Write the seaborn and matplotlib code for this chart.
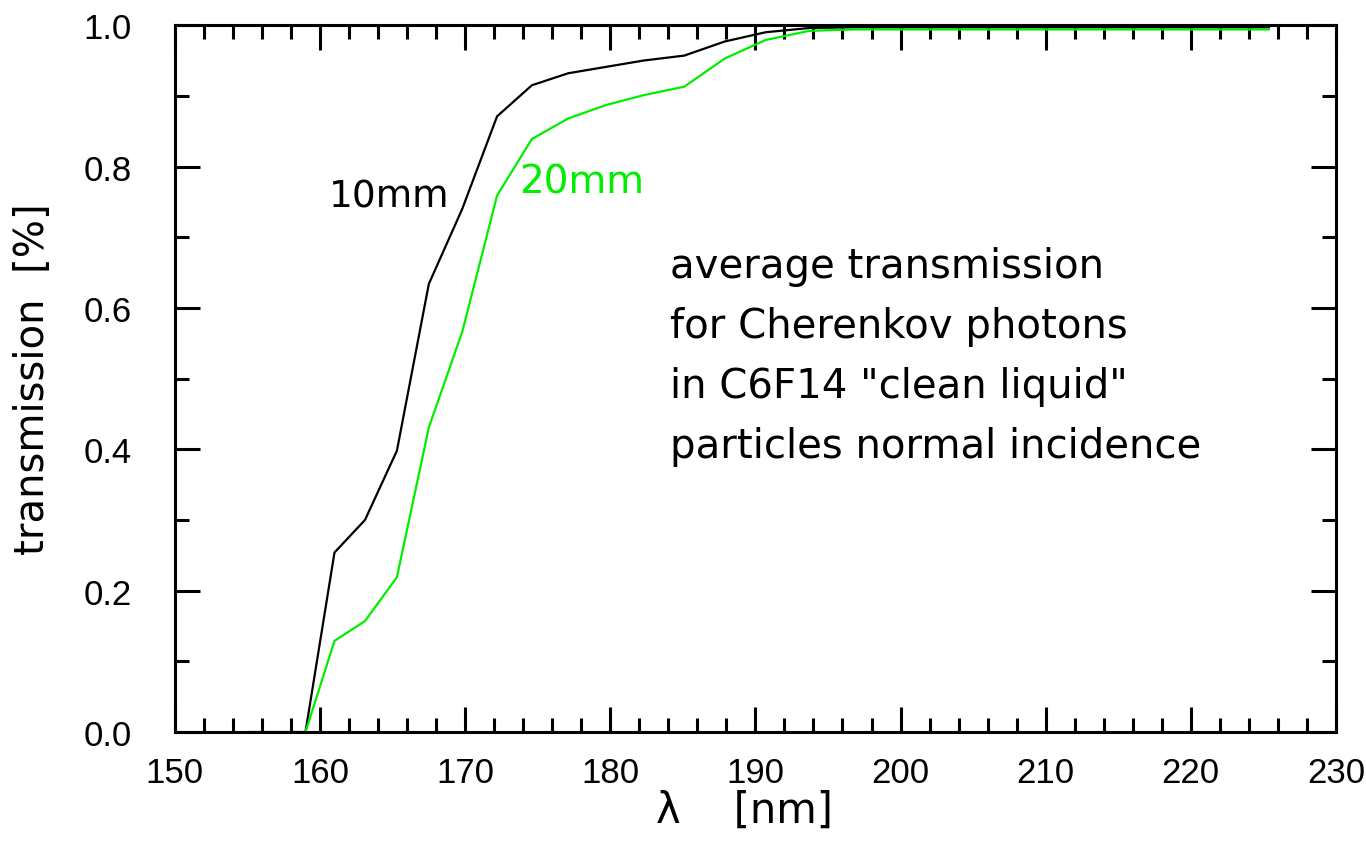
import matplotlib
matplotlib.use("Agg")
import matplotlib.pyplot as plt
from matplotlib.ticker import MultipleLocator
import pandas as pd
import seaborn as sns

# wavelength grid [nm]
wavelength = [155.0, 156.9, 159.0, 161.0, 163.1, 165.3, 167.5, 169.8, 172.2,
              174.6, 177.1, 179.7, 182.3, 185.1, 187.9, 190.7, 193.7, 196.8,
              200.0, 203.3, 206.6, 210.1, 213.8, 217.5, 221.4, 225.4]

trans_10mm = [0.0, 0.0, 0.0, 0.254, 0.300, 0.398, 0.634, 0.740, 0.871,
              0.915, 0.932, 0.941, 0.950, 0.957, 0.977, 0.990, 0.996, 0.997,
              0.997, 0.997, 0.997, 0.997, 0.997, 0.997, 0.997, 0.997]

trans_20mm = [0.0, 0.0, 0.0, 0.129, 0.157, 0.219, 0.431, 0.566, 0.759,
              0.839, 0.868, 0.887, 0.901, 0.913, 0.953, 0.979, 0.992, 0.994,
              0.994, 0.994, 0.994, 0.994, 0.994, 0.994, 0.994, 0.994]

info_lines = ["average transmission",
              "for Cherenkov photons",
              "in C6F14 \"clean liquid\"",
              "particles normal incidence"]

df = pd.DataFrame({
    "wavelength": wavelength * 2,
    "transmission": trans_10mm + trans_20mm,
    "thickness": ["10mm"] * len(wavelength) + ["20mm"] * len(wavelength),
})

sns.set_style("ticks")
plt.rcParams["font.family"] = ["DejaVu Sans"]

fig = plt.figure(figsize=(13.66, 8.45), dpi=100)
ax = fig.add_axes([0.128, 0.1325, 0.850, 0.8365])

sns.lineplot(data=df, x="wavelength", y="transmission", hue="thickness",
             palette={"10mm": "black", "20mm": "#00ee00"}, linewidth=1.6,
             legend=False, ax=ax)

ax.set_xlim(150, 230)
ax.set_ylim(0, 1)
ax.xaxis.set_major_locator(MultipleLocator(10))
ax.xaxis.set_minor_locator(MultipleLocator(2))
ax.yaxis.set_major_locator(MultipleLocator(0.2))
ax.yaxis.set_minor_locator(MultipleLocator(0.1))
ax.yaxis.set_major_formatter(plt.FormatStrFormatter("%.1f"))
ax.tick_params(which="both", direction="in", top=True, right=True,
               width=2.2, color="black", labelcolor="black",
               labelsize=25, labelfontfamily="Liberation Sans")
ax.tick_params(axis="x", pad=17)
ax.tick_params(axis="y", pad=31)
ax.tick_params(which="major", length=18)
ax.tick_params(which="minor", length=10)
for s in ax.spines.values():
    s.set_linewidth(2.2)
    s.set_color("black")

ax.set_xlabel("λ    [nm]", fontsize=30, labelpad=0, color="black")
ax.xaxis.label.set_x(0.491)
ax.set_ylabel("transmission  [%]", fontsize=29, labelpad=22, color="black")

ax.text(160.6, 0.744, "10mm", fontsize=27, color="black")
ax.text(173.7, 0.764, "20mm", fontsize=28, color="#00ee00")
for i, line in enumerate(info_lines):
    ax.text(184.1, 0.644 - i * 0.0849, line, fontsize=29, color="black")

fig.savefig("out.png", dpi=100)
